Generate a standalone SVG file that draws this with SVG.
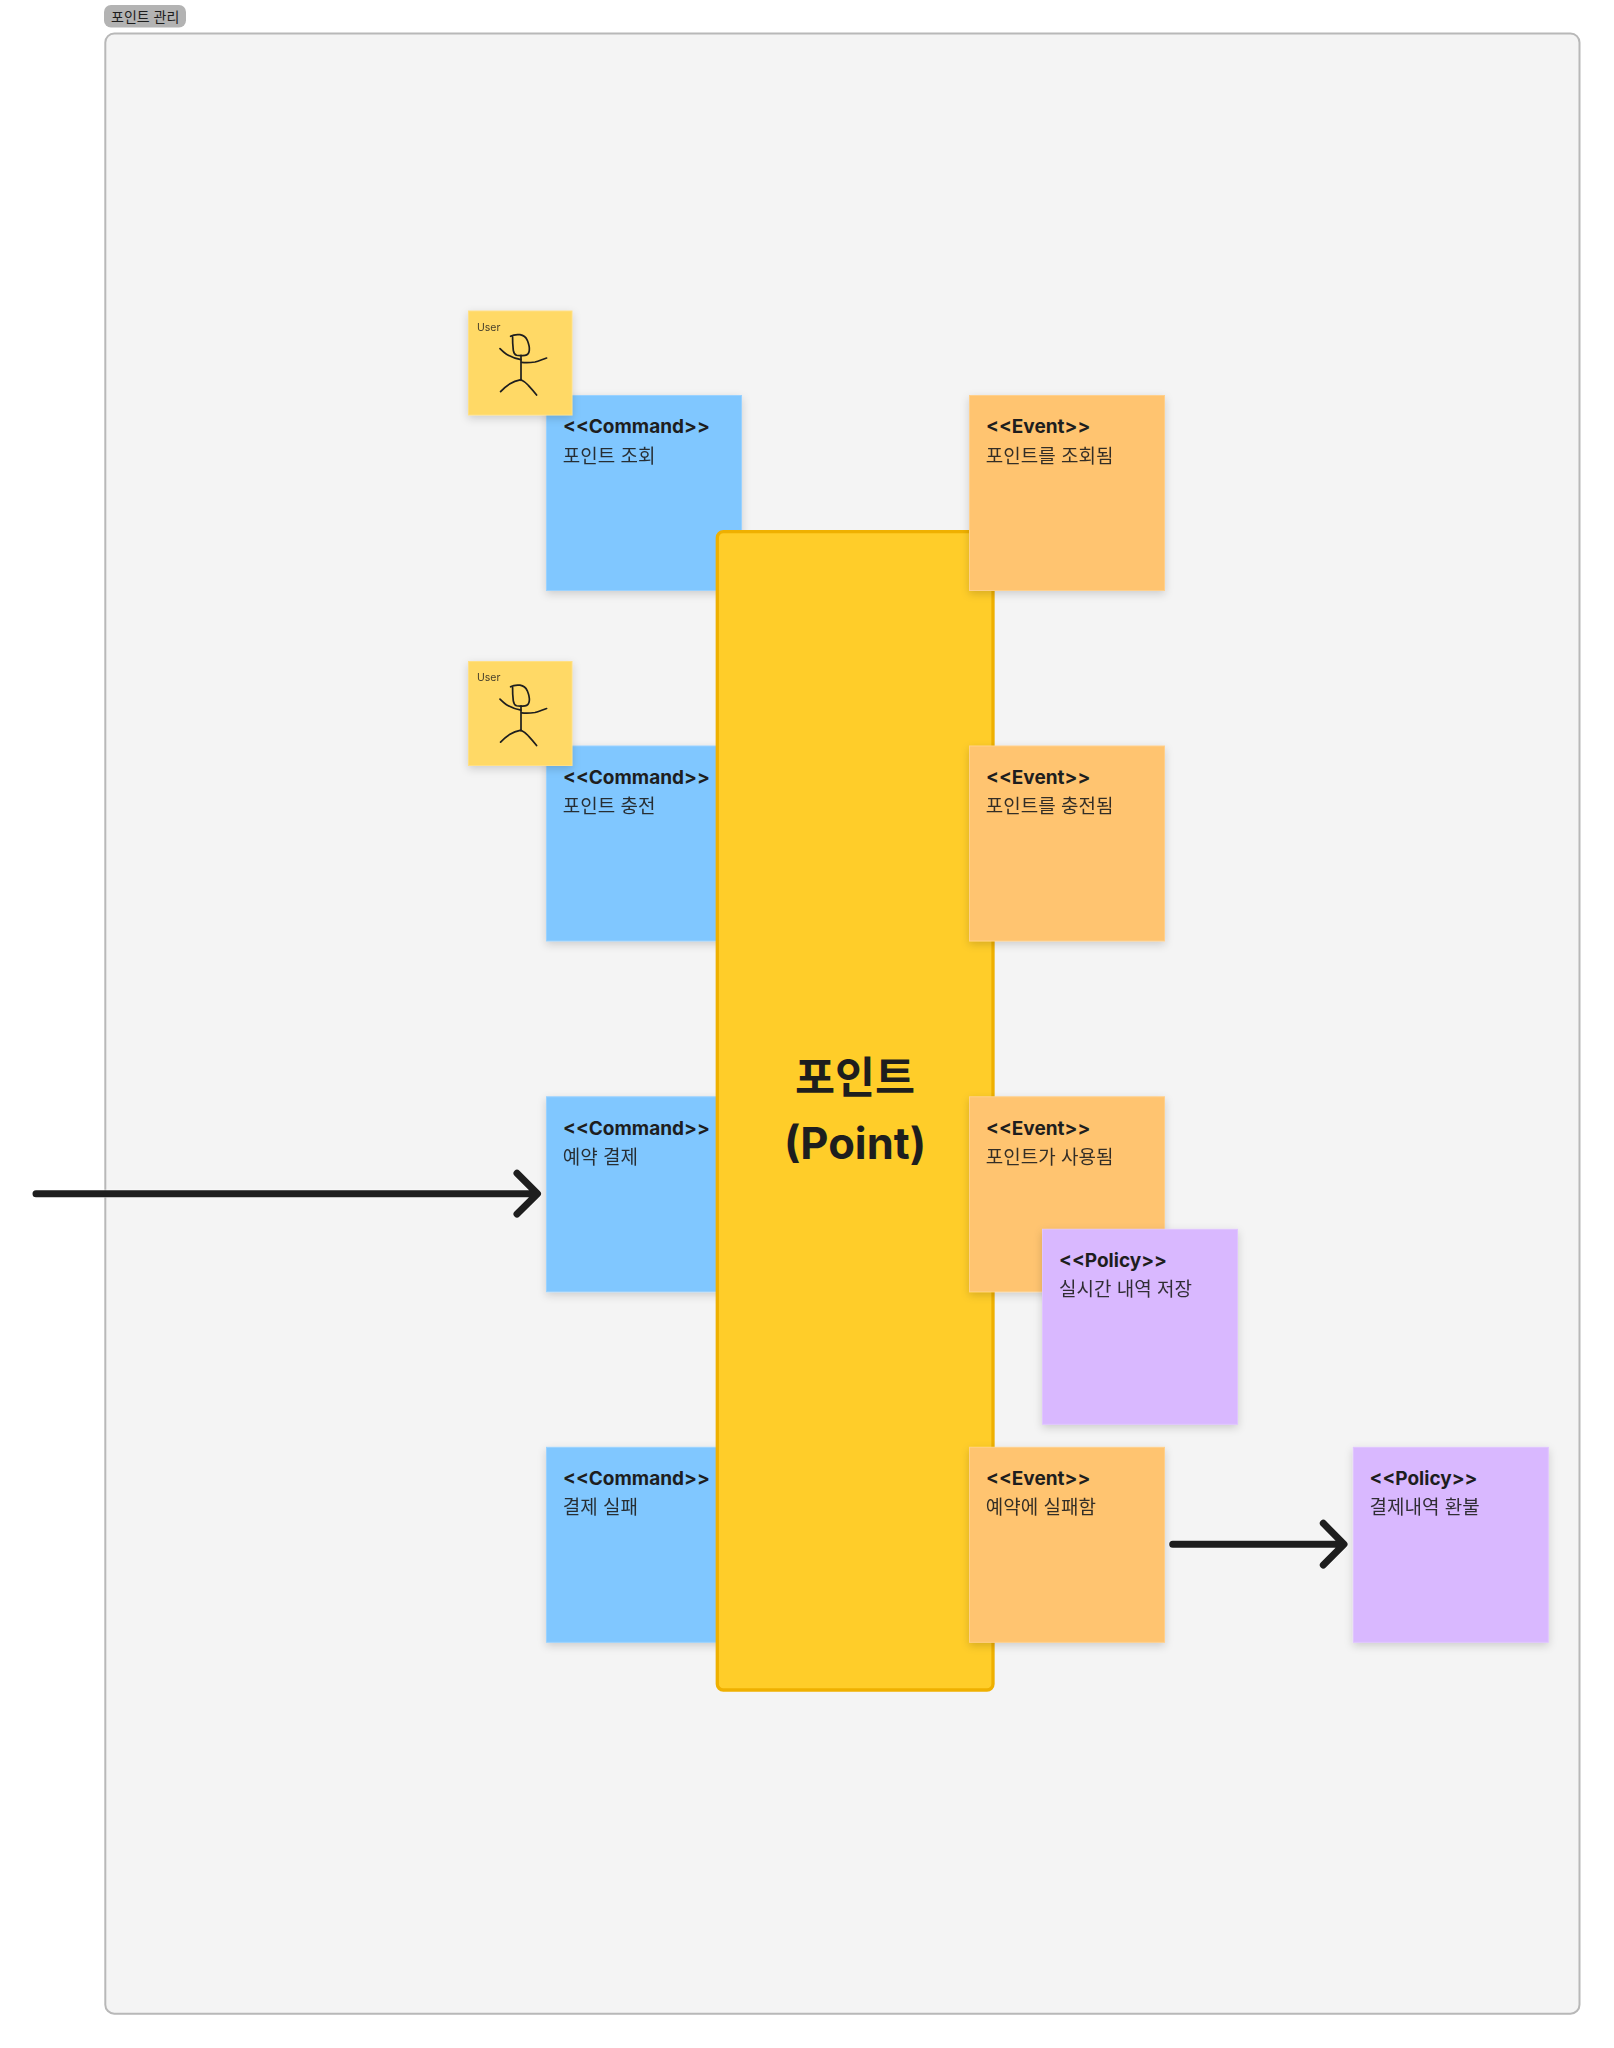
<svg xmlns="http://www.w3.org/2000/svg" xmlns:xlink="http://www.w3.org/1999/xlink" width="1614" height="2048" viewBox="0 0 1614 2048">
<style>
.sticky{stroke-width:1;filter:url(#sh)}
.cmd{fill:#80C7FF;stroke:#9AD2FF}
.evt{fill:#FFC470;stroke:#FFD08C}
.pol{fill:#D9B8FF;stroke:#E0C5FF}
.usr{fill:#FFD966;stroke:#FFE085}
.b{font:700 19px Inter,"Noto Sans CJK KR",sans-serif;fill:#1E1E1E}
.k{font:400 19px Inter,"Noto Sans CJK KR",sans-serif;fill:#1E1E1E;opacity:.9}
.u{font:400 10.500px Inter,"Noto Sans",sans-serif;fill:#1E1E1E;opacity:.85}
.t{font:700 43.500px Inter,"Noto Sans CJK KR",sans-serif;fill:#1E1E1E;text-anchor:middle}
.fig{fill:none;stroke:#1E1E1E;stroke-width:1.7;stroke-linecap:round;stroke-linejoin:round}
.halo{fill:none;stroke:#FFF;stroke-opacity:.5;stroke-width:8.500;stroke-linecap:round;stroke-linejoin:round}
.line{fill:none;stroke:#1E1E1E;stroke-width:7;stroke-linecap:round;stroke-linejoin:round}
</style>
<defs>
<filter id="sh" x="-15%" y="-15%" width="130%" height="130%"><feDropShadow dx="0" dy="3" stdDeviation="4" flood-color="#000" flood-opacity=".16"/></filter>
<g id="figure">
<path class="fig" d="M42.300 25.300C45 23.700 49 23.400 51.700 23.700C56 24.500 58 27 59 29.300C60.500 33 61.300 37 61 39.300C60.700 42 59 44 56.700 44.300C53.500 44.800 50.500 44.900 48.300 44.300C46 43.500 45.300 41 45 39.300C44.500 35 44.200 30 44.300 26"/>
<path class="fig" d="M52.700 44.300V69.300"/>
<path class="fig" d="M31.700 37.700C34 40 37 42.800 40 44.300C44 46.500 48 48 52.700 48.700M53.300 51.300C57 51.700 62 51.600 66.700 51C70.500 50 74.500 48.200 78.300 47"/>
<path class="fig" d="M32.300 80.700C35 77.800 38 75 41.700 72.700C45 70.700 49 69.500 52.700 68.700C55.500 70 58 72 60 74.300C63 77.500 66 81 68.300 84"/>
</g>
</defs>
<rect width="1614" height="2048" fill="#fff"/>
<g id="frame">
<rect x="105.300" y="33.500" width="1474.200" height="1980.200" rx="9" fill="#F4F4F4" stroke="#B8B8B8" stroke-width="2"/>
<rect x="104" y="5" width="82" height="22.500" rx="7" fill="#B3B3B3"/>
<text x="111" y="22" style="font:400 14px Inter,'Noto Sans CJK KR',sans-serif;fill:#1E1E1E">포인트 관리</text>
</g>
<g id="cmd-query"><rect class="sticky cmd" x="546.500" y="395.500" width="195" height="195"/><text class="b" x="563" y="433.200">&lt;&lt;Command&gt;&gt;</text><text class="k" x="562.800" y="462.500">포인트 조회</text></g>
<g id="cmd-charge"><rect class="sticky cmd" x="546.500" y="746" width="195" height="195"/><text class="b" x="563" y="783.700">&lt;&lt;Command&gt;&gt;</text><text class="k" x="562.800" y="813">포인트 충전</text></g>
<g id="cmd-pay"><rect class="sticky cmd" x="546.500" y="1096.800" width="195" height="195"/><text class="b" x="563" y="1134.500">&lt;&lt;Command&gt;&gt;</text><text class="k" x="562.800" y="1163.800">예약 결제</text></g>
<g id="cmd-fail"><rect class="sticky cmd" x="546.500" y="1447.300" width="195" height="195"/><text class="b" x="563" y="1485">&lt;&lt;Command&gt;&gt;</text><text class="k" x="562.800" y="1514.300">결제 실패</text></g>
<g id="user-1"><rect class="sticky usr" x="468.500" y="311" width="103.500" height="104"/><text class="u" x="477" y="330.500">User</text><use xlink:href="#figure" href="#figure" x="468.300" y="311"/></g>
<g id="user-2"><rect class="sticky usr" x="468.500" y="661.500" width="103.500" height="104"/><text class="u" x="477" y="681">User</text><use xlink:href="#figure" href="#figure" x="468.300" y="661.500"/></g>
<g id="aggregate"><rect x="717.300" y="531.700" width="275.700" height="1158.300" rx="6" fill="#FFCD29" stroke="#EFB000" stroke-width="3.300"/><text class="t" x="855" y="1092.500">포인트</text><text class="t" x="855" y="1159">(Point)</text></g>
<g id="evt-query"><rect class="sticky evt" x="969.500" y="395.500" width="195" height="195"/><text class="b" x="986" y="433.200">&lt;&lt;Event&gt;&gt;</text><text class="k" x="985.800" y="462.500">포인트를 조회됨</text></g>
<g id="evt-charge"><rect class="sticky evt" x="969.500" y="746" width="195" height="195"/><text class="b" x="986" y="783.700">&lt;&lt;Event&gt;&gt;</text><text class="k" x="985.800" y="813">포인트를 충전됨</text></g>
<g id="evt-used"><rect class="sticky evt" x="969.500" y="1096.800" width="195" height="195"/><text class="b" x="986" y="1134.500">&lt;&lt;Event&gt;&gt;</text><text class="k" x="985.800" y="1163.800">포인트가 사용됨</text></g>
<g id="evt-fail"><rect class="sticky evt" x="969.500" y="1447.300" width="195" height="195"/><text class="b" x="986" y="1485">&lt;&lt;Event&gt;&gt;</text><text class="k" x="985.800" y="1514.300">예약에 실패함</text></g>
<g id="pol-save"><rect class="sticky pol" x="1042.500" y="1229.300" width="195" height="195"/><text class="b" x="1059" y="1267">&lt;&lt;Policy&gt;&gt;</text><text class="k" x="1059" y="1296.300">실시간 내역 저장</text></g>
<g id="pol-refund"><rect class="sticky pol" x="1353.300" y="1447.300" width="195" height="195"/><text class="b" x="1369.500" y="1485">&lt;&lt;Policy&gt;&gt;</text><text class="k" x="1369.500" y="1514.300">결제내역 환불</text></g>
<g id="connectors">
<path class="halo" d="M36 1193.700H536M517 1173.300L537.500 1193.700L517 1214"/>
<path class="line" d="M36 1193.700H536M517 1173.300L537.500 1193.700L517 1214"/>
<path class="halo" d="M1172.700 1544.300H1343M1323.300 1523.300L1344 1544.300L1323.300 1565"/>
<path class="line" d="M1172.700 1544.300H1343M1323.300 1523.300L1344 1544.300L1323.300 1565"/>
</g>
</svg>
